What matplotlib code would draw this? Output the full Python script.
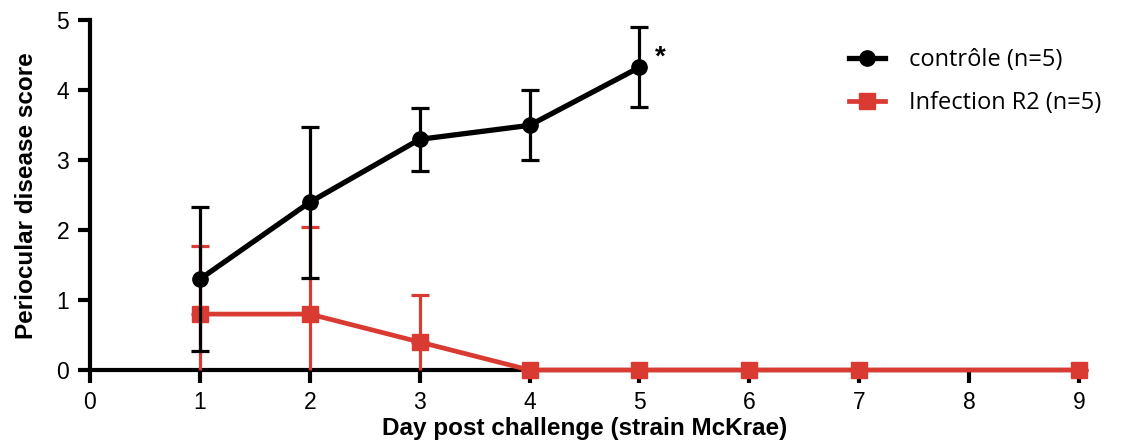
import numpy as np
import matplotlib
matplotlib.use("Agg")
import matplotlib.pyplot as plt

# data
days_ctrl = [1, 2, 3, 4, 5]
score_ctrl = [1.3, 2.4, 3.3, 3.5, 4.33]
sd_ctrl = [1.03, 1.08, 0.45, 0.5, 0.57]

days_r2 = [1, 2, 3, 4, 5, 6, 7, 9]
score_r2 = [0.8, 0.8, 0.4, 0, 0, 0, 0, 0]
sd_r2 = [0.98, 1.25, 0.67, 0, 0, 0, 0, 0]

label_ctrl = "contrôle (n=5)"
label_r2 = "Infection R2 (n=5)"
xticks = list(range(0, 10))
yticks = list(range(0, 6))

black = "#000000"
red = "#d93a32"

plt.rcParams["font.family"] = ["Liberation Sans", "DejaVu Sans"]

fig = plt.figure(figsize=(11.26, 4.44), dpi=100)
ax = fig.add_axes([90 / 1126, 74 / 444, 989 / 1126, 349.5 / 444])

score_r2 = np.array(score_r2)
sd_r2 = np.array(sd_r2)
low_r2 = np.minimum(sd_r2, score_r2)

# red: upper bars with caps, lower bars clipped at 0 without caps
ax.errorbar(days_r2, score_r2, yerr=[np.zeros_like(sd_r2), sd_r2], fmt="none",
            ecolor=red, elinewidth=2.3, capsize=6.5, capthick=2.3, zorder=3, clip_on=False)
ax.errorbar(days_r2, score_r2, yerr=[low_r2, np.zeros_like(sd_r2)], fmt="none",
            ecolor=red, elinewidth=2.3, capsize=0, zorder=3, clip_on=False)
ax.plot(days_r2, score_r2, color=red, lw=3.4, marker="s", ms=11, mec=red, mfc=red,
        zorder=3, clip_on=False, label=label_r2)

ax.errorbar(days_ctrl, score_ctrl, yerr=sd_ctrl, fmt="none", ecolor=black,
            elinewidth=2.3, capsize=6.5, capthick=2.3, zorder=4, clip_on=False)
ax.plot(days_ctrl, score_ctrl, color=black, lw=3.8, marker="o", ms=11, mfc=black,
        mec=black, zorder=4, clip_on=False, label=label_ctrl)

ax.text(5.19, 4.47, "*", fontsize=20, fontweight="bold", ha="center", va="center")

ax.set_xlim(0, 9)
ax.set_ylim(0, 5)
ax.set_xticks(xticks)
ax.set_yticks(yticks)
for s in ["top", "right"]:
    ax.spines[s].set_visible(False)
for s in ["left", "bottom"]:
    ax.spines[s].set_linewidth(3)
    ax.spines[s].set_capstyle("projecting")
ax.tick_params(width=3, length=9, labelsize=16.5)
ax.tick_params(axis="x", pad=6)
ax.tick_params(axis="y", pad=6)

ax.set_xlabel("Day post challenge (strain McKrae)", fontsize=17.5, fontweight="bold",
              labelpad=2)
ax.set_ylabel("Periocular disease score", fontsize=17.5, fontweight="bold",
              labelpad=13)

h, l = ax.get_legend_handles_labels()
leg = ax.legend(h[::-1], l[::-1], loc="upper left", bbox_to_anchor=(828 / 1126, 417 / 444),
                bbox_transform=fig.transFigure, frameon=False, handlelength=1.5,
                handletextpad=1.05, labelspacing=0.8, prop={"family": "Open Sans", "size": 17})

fig.savefig("out.png", dpi=100)
